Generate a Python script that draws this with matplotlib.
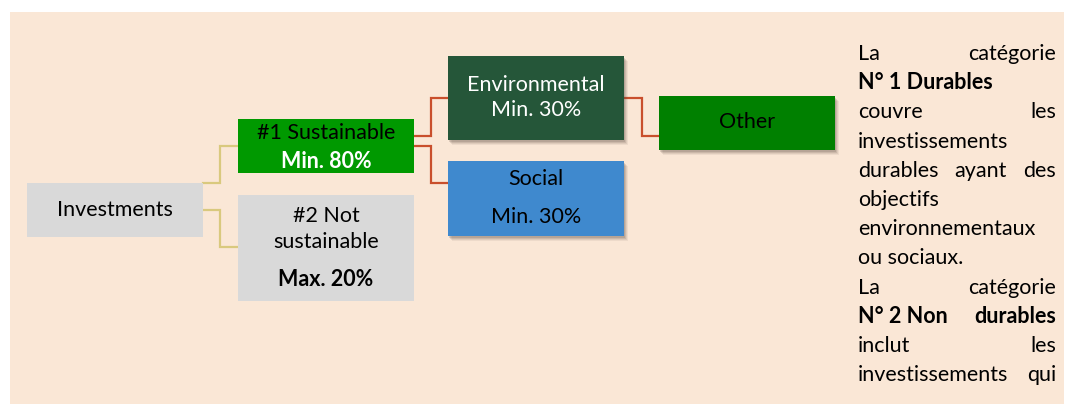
import matplotlib.pyplot as plt
from matplotlib.patches import Rectangle

plt.rcParams['font.family'] = ['Lato', 'DejaVu Sans']

W, H = 1066, 405

# Box texts, one entry per printed line
investments_label = ['Investments']
sustainable_label = ['#1 Sustainable', 'Min. 80%']
not_sustainable_label = ['#2 Not', 'sustainable', 'Max. 20%']
environmental_label = ['Environmental', 'Min. 30%']
social_label = ['Social', 'Min. 30%']
other_label = ['Other']

# Right-hand note, one entry per printed line: (text, bold, justified)
# (non-breaking spaces keep "N° 2 Non" together like in the original)
note_lines = [
    ('La catégorie', False, True),
    ('N°\u00a01\u00a0Durables', True, False),
    ('couvre les', False, True),
    ('investissements', False, False),
    ('durables ayant des', False, True),
    ('objectifs', False, False),
    ('environnementaux', False, False),
    ('ou sociaux.', False, False),
    ('La catégorie', False, True),
    ('N°\u00a02\u00a0Non durables', True, True),
    ('inclut les', False, True),
    ('investissements qui', False, True),
]

# Colours
BG = '#fae7d6'
GREY = '#d9d9d9'
GREEN = '#009900'
DARK_GREEN = '#255639'
BLUE = '#3f89ce'
OTHER_GREEN = '#008000'
LINK_YELLOW = '#d9c97e'
LINK_RED = '#c94f2c'

# Layout in pixels: x0, y0, x1, y1, colour, shadow, [(label, y, text colour, bold)]
boxes = [
    (27, 183, 203, 237, GREY, False,
     [(investments_label[0], 210, 'black', False)]),
    (238, 119, 414, 173, GREEN, False,
     [(sustainable_label[0], 133, 'black', False),
      (sustainable_label[1], 161, 'white', True)]),
    (238, 195, 414, 301, GREY, False,
     [(not_sustainable_label[0], 216, 'black', False),
      (not_sustainable_label[1], 242, 'black', False),
      (not_sustainable_label[2], 279, 'black', True)]),
    (448, 56, 624, 140, DARK_GREEN, True,
     [(environmental_label[0], 85, 'white', False),
      (environmental_label[1], 110, 'white', False)]),
    (448, 161, 624, 236, BLUE, True,
     [(social_label[0], 179, 'black', False),
      (social_label[1], 217, 'black', False)]),
    (659, 96, 835, 150, OTHER_GREEN, True,
     [(other_label[0], 122, 'black', False)]),
]

# Elbow connectors: start x, start y, bend x, end y, end x, colour
links = [
    (203, 183, 220, 146, 238, LINK_YELLOW),
    (203, 210, 220, 247, 238, LINK_YELLOW),
    (414, 136, 431, 98, 448, LINK_RED),
    (414, 146, 431, 183, 448, LINK_RED),
    (624, 98, 642, 136, 659, LINK_RED),
]

fig = plt.figure(figsize=(W / 100, H / 100), dpi=100)
ax = fig.add_axes([0, 0, 1, 1])
ax.set_xlim(0, W)
ax.set_ylim(H, 0)
ax.axis('off')

# Background panel
ax.add_patch(Rectangle((10, 12), 1054, 392, facecolor=BG, edgecolor='none', zorder=0))

for x0, y0, xm, y1, x1, col in links:
    ax.plot([x0, xm, xm, x1], [y0, y0, y1, y1], color=col, lw=1.6,
            solid_joinstyle='miter', zorder=1)

BOX_FS = 15.5
for x0, y0, x1, y1, col, shadow, texts in boxes:
    if shadow:
        for off, a in [(5, 0.08), (4, 0.1), (3, 0.14), (2, 0.18)]:
            ax.add_patch(Rectangle((x0 + off - 1, y0 + off), x1 - x0, y1 - y0,
                                   facecolor='#5a4a40', alpha=a, edgecolor='none', zorder=2))
    ax.add_patch(Rectangle((x0, y0), x1 - x0, y1 - y0, facecolor=col,
                           edgecolor='none', zorder=3))
    for label, ty, tc, bold in texts:
        ax.text((x0 + x1) / 2, ty, label, ha='center', va='center', color=tc,
                fontsize=BOX_FS, fontweight='bold' if bold else 'normal', zorder=4)

# Justified note on the right
NOTE_FS = 15.5
note_left, note_right = 858, 1056
note_base, note_step = 60, 29.2
fig.canvas.draw()
renderer = fig.canvas.get_renderer()
for i, (line, bold, justified) in enumerate(note_lines):
    y = note_base + i * note_step
    weight = 'bold' if bold else 'normal'
    words = line.split(' ')
    if not justified or len(words) == 1:
        ax.text(note_left, y, line, ha='left', va='baseline', fontsize=NOTE_FS,
                fontweight=weight, color='black', zorder=4)
        continue
    items = [ax.text(0, y, w, ha='left', va='baseline', fontsize=NOTE_FS,
                     fontweight=weight, color='black', zorder=4) for w in words]
    widths = [t.get_window_extent(renderer).width for t in items]
    gap = (note_right - note_left - sum(widths)) / (len(words) - 1)
    x = note_left
    for t, w in zip(items, widths):
        t.set_x(x)
        x += w + gap

fig.savefig('out.png', dpi=100, facecolor='white')
